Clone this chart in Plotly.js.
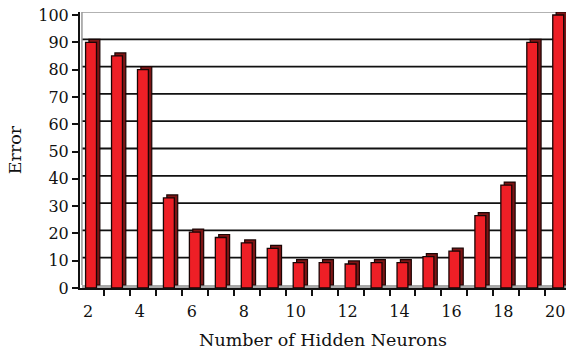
<!DOCTYPE html>
<html>
<head>
<meta charset="utf-8">
<script src="https://cdn.plot.ly/plotly-3.0.1.min.js"></script>
<style>html,body{margin:0;padding:0;background:#fff;}#chart{width:566px;height:351px;}</style>
</head>
<body>
<div id="chart"></div>
<script>
// Data
const hiddenNeurons = [2,3,4,5,6,7,8,9,10,11,12,13,14,15,16,17,18,19,20];
const errorValues = [90,85,80,33,20.5,18.5,16.5,14.5,9.3,9.3,8.8,9.3,9.3,11.5,13.5,26.5,37.7,90,100];
const yTickVals = [0,10,20,30,40,50,60,70,80,90,100];
const xTickVals = [2,4,6,8,10,12,14,16,18,20];

const depthY = 1.1;      // visual 3D depth (in y units)
const depthX = 0.13;     // visual 3D depth (in x units)
const barW = 0.42;

const sideTrace = {
  type: 'bar',
  x: hiddenNeurons,
  y: errorValues,
  base: depthY,
  width: barW,
  offset: -barW/2 + depthX,
  marker: {color: '#7d1515', line: {color: '#1a0505', width: 1.2}},
  hoverinfo: 'skip',
  showlegend: false
};
const frontTrace = {
  type: 'bar',
  x: hiddenNeurons,
  y: errorValues,
  width: barW,
  offset: -barW/2,
  marker: {color: '#ee1f26', line: {color: '#1a0505', width: 1.3}},
  showlegend: false
};

const shapes = [];
shapes.push({type:'rect', xref:'paper', yref:'y', x0:0.004, x1:1, y0:0, y1:depthY, fillcolor:'#a9a9a9', line:{width:0}, layer:'below'});
yTickVals.slice(1, -1).forEach(v => {
  shapes.push({type:'line', xref:'paper', yref:'y', x0:0.004, x1:1, y0:v+depthY, y1:v+depthY, line:{color:'#111', width:1.8}, layer:'below'});
});
shapes.push({type:'line', xref:'paper', yref:'y', x0:0.004, x1:1, y0:100+depthY, y1:100+depthY, line:{color:'#999', width:1.5}, layer:'below'});
shapes.push({type:'line', xref:'paper', yref:'y', x0:0.004, x1:0.004, y0:depthY, y1:100+depthY, line:{color:'#999', width:1.5}, layer:'below'});

const layout = {
  width: 566, height: 351,
  margin: {l: 80, r: 0, t: 12, b: 63},
  paper_bgcolor: '#fff', plot_bgcolor: '#fff',
  barmode: 'overlay',
  font: {family: 'DejaVu Serif, serif', color: '#111', size: 16},
  xaxis: {
    range: [1.575, 20.3],
    tickvals: xTickVals,
    ticktext: xTickVals.map(String),
    ticks: '',
    ticklabeloverflow: 'allow',
    ticklabelstandoff: 8,
    ticklabelshift: -3,
    showgrid: false, zeroline: false,
    showline: true, linecolor: '#111', linewidth: 2,
    minor: {tick0: 1.5, dtick: 1, ticks: 'outside', ticklen: 6, tickwidth: 2, tickcolor: '#111', showgrid: false},
    tickfont: {size: 16},
    title: {text: 'Number of Hidden Neurons', font: {size: 17.5}, standoff: 14}
  },
  yaxis: {
    range: [0, 100 + depthY],
    tickvals: yTickVals,
    ticks: 'outside', ticklen: 6, tickwidth: 2, tickcolor: '#111',
    showgrid: false, zeroline: false,
    showline: true, linecolor: '#111', linewidth: 2,
    tickfont: {size: 16},
    title: {text: 'Error', font: {size: 17.5}, standoff: 12}
  },
  shapes: shapes
};

Plotly.newPlot('chart', [sideTrace, frontTrace], layout, {staticPlot: true, displayModeBar: false});
</script>
</body>
</html>
